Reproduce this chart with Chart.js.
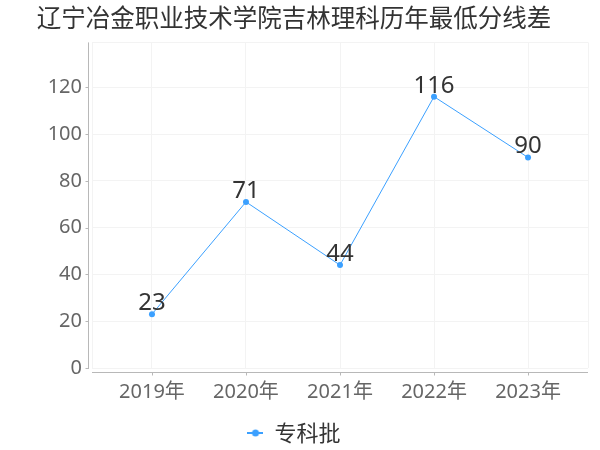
<!DOCTYPE html>
<html><head><meta charset="utf-8">
<script src="https://cdn.jsdelivr.net/npm/chart.js@4/dist/chart.umd.min.js"></script>
<style>html,body{margin:0;padding:0;background:#fff}#wrap{width:600px;height:450px}</style>
</head><body><div id="wrap"><canvas id="c" width="600" height="450"></canvas></div>
<script>
const titleText = '辽宁冶金职业技术学院吉林理科历年最低分线差';
const categories = ['2019年', '2020年', '2021年', '2022年', '2023年'];
const seriesName = '专科批';
const values = [23, 71, 44, 116, 90];
const yTicks = [0, 20, 40, 60, 80, 100, 120];

const COLOR = '#3ba0ff';
const CJK = '"Noto Sans CJK SC", "Noto Sans", sans-serif';
const NUM = '"Noto Sans", "Noto Sans CJK SC", sans-serif';

// legend icon: line with dot
const icon = document.createElement('canvas');
icon.width = 16; icon.height = 10;
(function(){const g=icon.getContext('2d');g.strokeStyle=COLOR;g.lineWidth=2;g.beginPath();g.moveTo(0,5);g.lineTo(16,5);g.stroke();g.fillStyle=COLOR;g.beginPath();g.arc(8,5,3.5,0,Math.PI*2);g.fill();})();

const axisPlugin = {
  id: 'axisLines',
  beforeDatasetsDraw(chart) {
    const {ctx, chartArea: a, scales: {x, y}} = chart;
    ctx.save();
    ctx.strokeStyle = '#b8b8b8'; ctx.lineWidth = 1;
    const ax = Math.round(a.left) - 4 + 0.5;
    ctx.beginPath(); ctx.moveTo(ax, a.top); ctx.lineTo(ax, a.bottom + 1); ctx.stroke();
    yTicks.forEach(v => { const py = Math.round(y.getPixelForValue(v)) + 0.5; ctx.beginPath(); ctx.moveTo(ax - 3, py); ctx.lineTo(ax, py); ctx.stroke(); });
    const ay = Math.round(a.bottom) + 4 + 0.5;
    ctx.beginPath(); ctx.moveTo(a.left, ay); ctx.lineTo(a.right, ay); ctx.stroke();
    categories.forEach((c, i) => { const px = Math.round(x.getPixelForValue(i)) + 0.5; ctx.beginPath(); ctx.moveTo(px, ay); ctx.lineTo(px, ay + 3); ctx.stroke(); });
    ctx.restore();
  }
};
const labelPlugin = {
  id: 'valueLabels',
  afterDatasetsDraw(chart) {
    const {ctx} = chart;
    const meta = chart.getDatasetMeta(0);
    ctx.save();
    ctx.font = '24px ' + NUM; ctx.fillStyle = '#333'; ctx.textAlign = 'center'; ctx.textBaseline = 'bottom';
    meta.data.forEach((pt, i) => { ctx.fillText(String(values[i]), pt.x, pt.y + 1); });
    ctx.restore();
  }
};

new Chart(document.getElementById('c'), {
  type: 'line',
  data: { datasets: [{ label: seriesName, data: values.map((v, i) => ({x: i, y: v})), borderColor: COLOR, backgroundColor: COLOR, borderWidth: 1, pointRadius: 3, pointBackgroundColor: COLOR, pointBorderWidth: 0, tension: 0 }] },
  options: {
    responsive: false, animation: false, devicePixelRatio: 1,
    layout: { padding: { left: 0, right: 12, top: 0, bottom: -4 } },
    plugins: {
      title: { display: true, text: titleText, color: '#333', font: { family: CJK, size: 24.5, weight: 'normal' }, padding: { top: 3, bottom: 10 } },
      legend: { position: 'bottom', labels: { padding: 3, pointStyleWidth: 16, color: '#333', font: { family: CJK, size: 22 }, usePointStyle: true, generateLabels: (ch) => [{ text: seriesName, pointStyle: icon, fillStyle: COLOR, strokeStyle: COLOR, lineWidth: 0, datasetIndex: 0, fontColor: '#333' }] } },
      tooltip: { enabled: false }
    },
    scales: {
      x: { type: 'linear', min: -0.638, max: 4.638,
        afterBuildTicks: (s) => { s.ticks = [{value: s.min}].concat(categories.map((c, i) => ({value: i}))).concat([{value: s.max}]); },
        afterFit: (s) => { s.height = 51; },
        ticks: { autoSkip: false, maxRotation: 0, padding: 12, color: '#666', font: { family: NUM, size: 20 }, callback: (v) => Number.isInteger(v) ? categories[v] : '' },
        grid: { color: '#f3f3f3', drawTicks: false }, border: { display: false } },
      y: { min: 0, max: 139.2,
        afterBuildTicks: (s) => { s.ticks = yTicks.map(v => ({value: v})).concat([{value: s.max}]); },
        afterFit: (s) => { s.width = 92; },
        ticks: { padding: 10, color: '#666', font: { family: NUM, size: 20 }, callback: (v) => yTicks.includes(v) ? String(v) : '' },
        grid: { color: '#f3f3f3', drawTicks: false }, border: { display: false } }
    }
  },
  plugins: [axisPlugin, labelPlugin]
});
</script></body></html>
